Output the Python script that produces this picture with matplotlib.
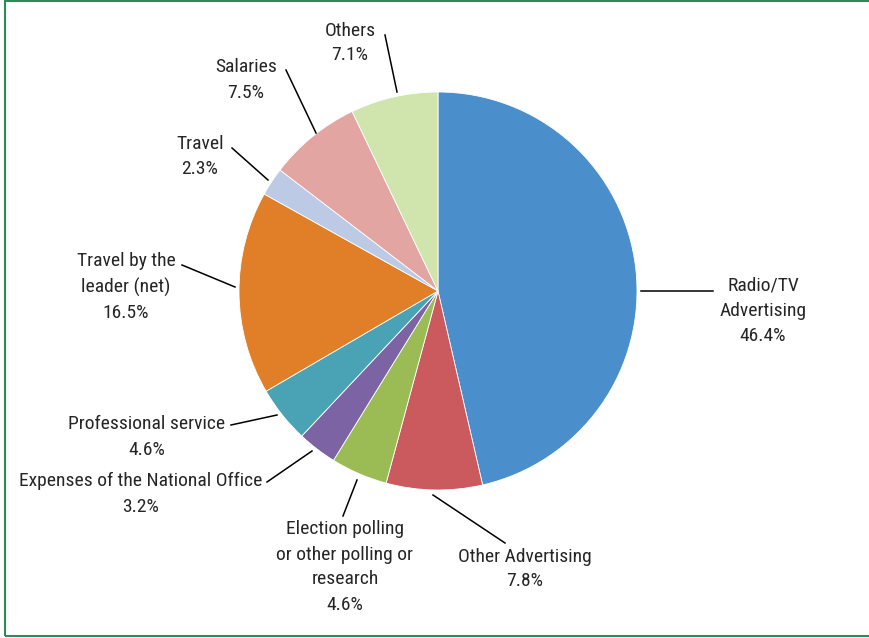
import matplotlib.pyplot as plt
from matplotlib.patches import Rectangle

plt.rcParams['font.family'] = ['Roboto Condensed', 'Archivo Narrow', 'DejaVu Sans']

categories = ["Radio/TV\nAdvertising", "Other Advertising", "Election polling\nor other polling or\nresearch",
              "Expenses of the National Office", "Professional service", "Travel by the\nleader (net)",
              "Travel", "Salaries", "Others"]
shares = [46.4, 7.8, 4.6, 3.2, 4.6, 16.5, 2.3, 7.5, 7.1]
colors = ["#4A8ECC", "#CB5A5F", "#9BBB55", "#7C63A3", "#4AA3B5",
          "#E07F28", "#BCCAE6", "#E2A5A1", "#D0E5AD"]

# label layout in pixels from the top-left: leader line (start, end), text centre
W, H = 870, 638
label_lines = [((641, 291), (713, 291)), ((433, 495), (505, 543)), ((357, 480), (343, 516)),
               ((312, 451), (267, 482)), ((277, 415), (231, 425)), ((235, 287), (182, 265)),
               ((268, 180), (232, 148)), ((316, 133), (286, 70)), ((397, 92), (385, 35))]
label_pos = [(763, 311), (525, 569), (345, 567), (141, 494), (147, 437), (126, 287),
             (200, 157), (246, 80), (350, 43)]

fig = plt.figure(figsize=(8.7, 6.38), dpi=100)
ax = fig.add_axes([0, 0, 1, 1])

ax.pie(shares, colors=colors, startangle=90, counterclock=False,
       center=(438, H - 291), radius=199, frame=True,
       wedgeprops=dict(edgecolor='white', linewidth=0.6))
ax.set_xlim(0, W)
ax.set_ylim(0, H)
ax.axis('off')

fs = 14
tc = '#262626'
for cat, val, (p0, p1), (tx, ty) in zip(categories, shares, label_lines, label_pos):
    ax.plot([p0[0], p1[0]], [H - p0[1], H - p1[1]], color='black', lw=1.1)
    if cat.startswith("Expenses"):
        ax.text(262, H - 481, cat, ha='right', va='center', fontsize=fs, color=tc)
        ax.text(tx, H - 507, f"{val}%", ha='center', va='center', fontsize=fs, color=tc)
    elif cat.startswith("Professional"):
        ax.text(tx, H - 424, cat, ha='center', va='center', fontsize=fs, color=tc)
        ax.text(tx, H - 450, f"{val}%", ha='center', va='center', fontsize=fs, color=tc)
    else:
        ax.text(tx, H - ty, f"{cat}\n{val}%", ha='center', va='center', fontsize=fs,
                color=tc, linespacing=1.5)

# outer frame
ax.add_patch(Rectangle((5, 2), W, H - 3, fill=False, edgecolor='#2E8B57', lw=1.5, clip_on=False))

fig.savefig('out.png', dpi=100)
